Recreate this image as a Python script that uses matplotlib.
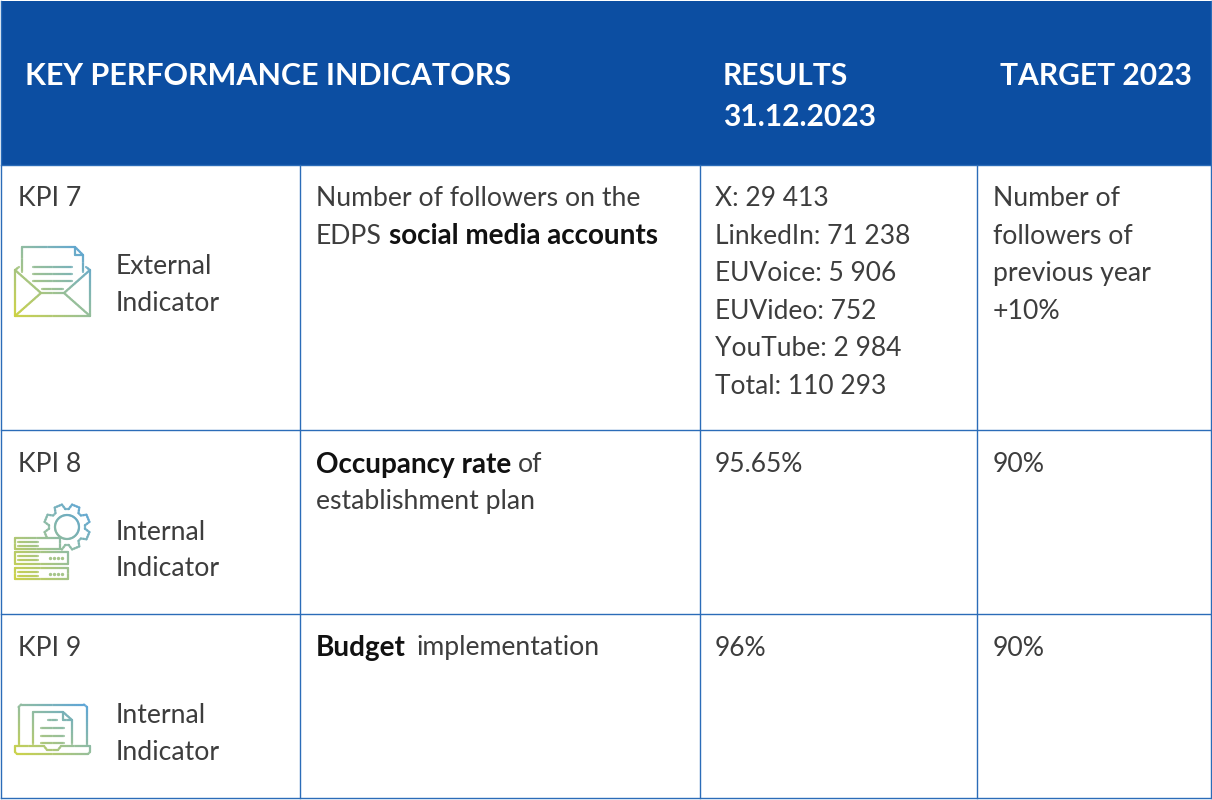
import matplotlib
matplotlib.use('Agg')
import matplotlib.pyplot as plt
import numpy as np
from matplotlib.colors import LinearSegmentedColormap
from matplotlib.collections import LineCollection
from matplotlib.patches import Rectangle

plt.rcParams['font.family'] = ['Lato', 'DejaVu Sans']

header_labels = ['KEY PERFORMANCE INDICATORS', 'RESULTS\n31.12.2023', 'TARGET 2023']
kpi_names = ['KPI 7', 'KPI 8', 'KPI 9']
indicator_types = ['External\nIndicator', 'Internal\nIndicator', 'Internal\nIndicator']
results = [
    ['X: 29 413', 'LinkedIn: 71 238', 'EUVoice: 5 906', 'EUVideo: 752', 'YouTube: 2 984', 'Total: 110 293'],
    ['95.65%'],
    ['96%'],
]
targets = [
    ['Number of', 'followers of', 'previous year', '+10%'],
    ['90%'],
    ['90%'],
]

# text runs of the description column: (text, bold, x, line)
descriptions = [
    [('Number of followers on the', False, 316, 0), ('EDPS', False, 316, 1),
     ('social media accounts', True, 389, 1)],
    [('Occupancy rate', True, 316, 0), ('of', False, 518, 0),
     ('establishment plan', False, 316, 1)],
    [('Budget', True, 316, 0), ('implementation', False, 416, 0)],
]

row_edges = [164.5, 430, 613.5, 798]
col_edges = [1, 300, 700, 977, 1211]

HEADER_BLUE = '#0c4ea2'
LINE_BLUE = '#2b6cb8'
TEXT = '#3d3d3d'
TEXT_BOLD = '#111111'
FS = 19.2
FS_BOLD = 20.1
FS_HEAD = 21.6
LINE_STEP = 37.4

icon_cmap = LinearSegmentedColormap.from_list('icon', ['#cdd23f', '#93bd98', '#52a0dc'])


# Рисует ломаную с градиентом внутри рамки иконки
def grad_line(ax, pts, box, lw=1.6, zorder=3):
    pts = np.array(pts, dtype=float)
    segs, vals = [], []
    for a, b in zip(pts[:-1], pts[1:]):
        n = max(int(np.hypot(*(b - a)) / 2), 1)
        ts = np.linspace(0, 1, n + 1)
        for t0, t1 in zip(ts[:-1], ts[1:]):
            p0, p1 = a + (b - a) * t0, a + (b - a) * t1
            m = (p0 + p1) / 2
            u = (m[0] - box[0]) / (box[2] - box[0])
            v = (box[3] - m[1]) / (box[3] - box[1])
            vals.append((u + v) / 2)
            segs.append([p0, p1])
    lc = LineCollection(segs, cmap=icon_cmap, linewidths=lw, capstyle='round',
                        alpha=0.85, zorder=zorder)
    lc.set_array(np.array(vals))
    lc.set_clim(0, 1)
    ax.add_collection(lc)


def draw_envelope(ax):
    box = (14, 246, 90, 316)
    shapes = [
        [(22, 272), (22, 247), (75, 247), (83, 255), (83, 272)],
        [(75, 247), (75, 255), (83, 255)],
        [(19, 267), (15, 270), (15, 316), (90, 316), (90, 270), (86, 267)],
        [(15, 270), (41, 293), (64, 293), (90, 270)],
        [(15, 316), (41, 293)], [(90, 316), (64, 293)],
        [(33, 267), (72, 267)], [(33, 274), (72, 274)], [(33, 281), (72, 281)],
        [(42, 288.5), (63, 288.5)],
    ]
    for s in shapes:
        grad_line(ax, s, box)


def draw_gear(ax):
    box = (14, 503, 90, 581)
    cx, cy = 67, 527
    ang = np.linspace(0, 2 * np.pi, 60)
    grad_line(ax, np.c_[cx + 12 * np.cos(ang), cy + 12 * np.sin(ang)], box, zorder=1)
    pts = []
    for k in range(8):
        c = k * np.pi / 4 + np.pi / 8
        for da, r in [(-0.30, 18), (-0.17, 23), (0.17, 23), (0.30, 18)]:
            pts.append((cx + r * np.cos(c + da), cy + r * np.sin(c + da)))
    pts.append(pts[0])
    grad_line(ax, pts, box, zorder=1)
    # часть шестерни скрыта верхним сервером
    ax.add_patch(Rectangle((14, 537), 46, 13, fc='white', ec='none', zorder=2))
    ax.add_patch(Rectangle((14, 551), 54, 30, fc='white', ec='none', zorder=2))
    for (x0, x1, y0, y1) in [(15, 60, 538, 549), (15, 68, 552, 564), (15, 68, 568, 579)]:
        grad_line(ax, [(x1, y0), (x0, y0), (x0, y1), (x1, y1), (x1, y0)], box)
        for dy in (3.5, 7.5):
            grad_line(ax, [(x0 + 3, y0 + dy), (x0 + 23, y0 + dy)], box)
        if x1 == 68:
            ax.scatter([50, 54, 58, 62], [y0 + 6] * 4, s=2, color='#a6c58a', zorder=3)


def draw_laptop(ax):
    box = (14, 704, 91, 755)
    shapes = [
        [(18.5, 745), (18.5, 707), (21, 704.5), (84, 704.5), (87, 707), (87, 745)],
        [(33, 744), (33, 712), (63, 712), (72, 720), (72, 744)],
        [(63, 712), (63, 720), (72, 720)],
        [(48, 720), (57, 720)], [(41, 728), (64, 728)], [(41, 736), (64, 736)], [(41, 743), (64, 743)],
        [(15, 746), (44, 746), (47, 750), (58, 750), (61, 746), (90, 746), (90, 752),
         (88, 754), (17, 754), (15, 752), (15, 746)],
    ]
    for s in shapes:
        grad_line(ax, s, box)


fig = plt.figure(figsize=(12.12, 8.0), dpi=100)
ax = fig.add_axes([0, 0, 1, 1])
ax.set_xlim(0, 1212)
ax.set_ylim(800, 0)
ax.axis('off')

ax.add_patch(Rectangle((1, 1), 1210, 164, fc=HEADER_BLUE, ec='none'))
hdr = dict(color='white', fontsize=FS_HEAD, fontweight='bold', va='center')
ax.text(25, 76, header_labels[0], color='white', fontsize=21.9, fontweight='bold', va='center')
ax.text(723, 76, header_labels[1].split('\n')[0], **hdr)
ax.text(723, 117, header_labels[1].split('\n')[1], **hdr)
ax.text(1000, 76, header_labels[2], **hdr)

# сетка таблицы
for y in row_edges:
    ax.plot([1, 1211], [y, y], color=LINE_BLUE, lw=1)
for x in col_edges:
    ax.plot([x, x], [165 if x in col_edges[1:4] else 1, 798], color=LINE_BLUE, lw=1)

for i, top in enumerate(row_edges[:3]):
    y0 = top + 34.5
    ax.text(18, y0, kpi_names[i], fontsize=FS, color=TEXT, va='center')
    l1, l2 = indicator_types[i].split('\n')
    ax.text(116, y0 + 67.5, l1, fontsize=FS, color=TEXT, va='center')
    ax.text(116, y0 + 104.5, l2, fontsize=FS, color=TEXT, va='center')
    for txt, bold, x, line in descriptions[i]:
        ax.text(x, y0 + line * LINE_STEP, txt, va='center',
                fontsize=FS_BOLD if bold else FS,
                color=TEXT_BOLD if bold else TEXT, fontweight='bold' if bold else 'normal')
    for k, txt in enumerate(results[i]):
        ax.text(715, y0 + k * LINE_STEP, txt, fontsize=19, color=TEXT, va='center')
    for k, txt in enumerate(targets[i]):
        ax.text(993, y0 + k * LINE_STEP, txt, fontsize=FS, color=TEXT, va='center')

draw_envelope(ax)
draw_gear(ax)
draw_laptop(ax)

fig.savefig('out.png', dpi=100)
